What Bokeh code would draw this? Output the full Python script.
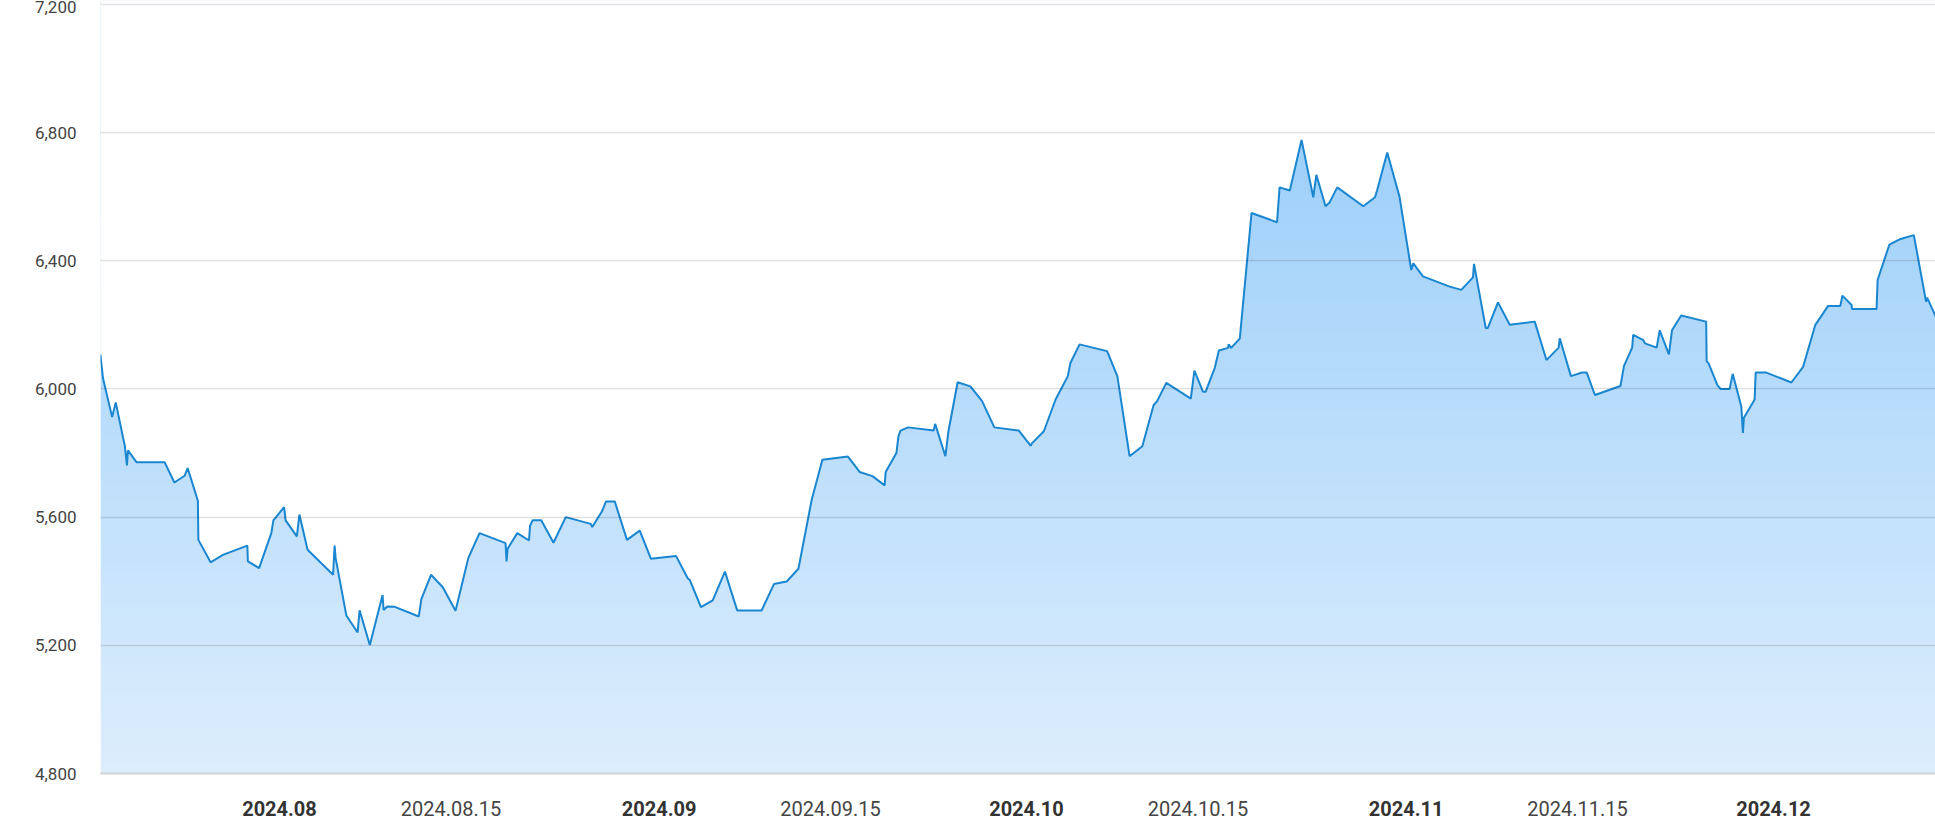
import numpy as np
import pandas as pd
from bokeh.plotting import figure
from bokeh.models import (FixedTicker, NumeralTickFormatter, Range1d, DatetimeAxis)
from bokeh.embed import file_html
from bokeh.resources import INLINE

# ---------------- data ----------------
dates = [
    "2024-07-17 09:00", "2024-07-17 14:00", "2024-07-18 08:00", "2024-07-18 15:00",
    "2024-07-19 09:00", "2024-07-19 13:00", "2024-07-19 15:00", "2024-07-20 08:00",
    "2024-07-22 15:00", "2024-07-23 10:00", "2024-07-24 06:00", "2024-07-24 12:00",
    "2024-07-25 08:00", "2024-07-25 09:00", "2024-07-26 09:00", "2024-07-27 09:00",
    "2024-07-29 09:00", "2024-07-29 10:00", "2024-07-30 08:00", "2024-07-31 08:00",
    "2024-07-31 12:00", "2024-08-01 09:00", "2024-08-01 12:00", "2024-08-02 10:00",
    "2024-08-02 15:00", "2024-08-03 07:00", "2024-08-05 09:00", "2024-08-05 12:00",
    "2024-08-05 14:00", "2024-08-06 11:00", "2024-08-07 09:00", "2024-08-07 13:00",
    "2024-08-08 09:00", "2024-08-09 10:00", "2024-08-09 12:00", "2024-08-09 19:00",
    "2024-08-10 10:00", "2024-08-12 09:00", "2024-08-12 14:00", "2024-08-13 09:00",
    "2024-08-14 08:00", "2024-08-15 09:00", "2024-08-16 10:00", "2024-08-17 08:00",
    "2024-08-19 11:00", "2024-08-19 13:00", "2024-08-19 15:00", "2024-08-20 10:00",
    "2024-08-21 09:00", "2024-08-21 11:00", "2024-08-21 16:00", "2024-08-22 09:00",
    "2024-08-23 09:00", "2024-08-24 09:00", "2024-08-26 10:00", "2024-08-26 13:00",
    "2024-08-27 08:00", "2024-08-27 16:00", "2024-08-28 09:00", "2024-08-29 09:00",
    "2024-08-30 10:00", "2024-08-31 08:00", "2024-09-02 09:00", "2024-09-03 08:00",
    "2024-09-03 12:00", "2024-09-04 10:00", "2024-09-05 09:00", "2024-09-06 09:00",
    "2024-09-07 09:00", "2024-09-09 09:00", "2024-09-10 09:00", "2024-09-11 10:00",
    "2024-09-12 09:00", "2024-09-13 11:00", "2024-09-14 08:00", "2024-09-16 10:00",
    "2024-09-17 09:00", "2024-09-18 10:00", "2024-09-19 10:00", "2024-09-19 12:00",
    "2024-09-20 09:00", "2024-09-20 13:00", "2024-09-20 17:00", "2024-09-21 08:00",
    "2024-09-23 10:00", "2024-09-23 13:00", "2024-09-24 09:00", "2024-09-24 15:00",
    "2024-09-25 09:00", "2024-09-26 10:00", "2024-09-27 09:00", "2024-09-28 09:00",
    "2024-09-30 09:00", "2024-10-01 08:00", "2024-10-01 11:00", "2024-10-02 10:00",
    "2024-10-03 09:00", "2024-10-04 09:00", "2024-10-04 14:00", "2024-10-05 08:00",
    "2024-10-07 14:00", "2024-10-08 10:00", "2024-10-09 10:00", "2024-10-10 11:00",
    "2024-10-11 09:00", "2024-10-11 16:00", "2024-10-12 10:00", "2024-10-14 10:00",
    "2024-10-14 17:00", "2024-10-15 10:00", "2024-10-15 15:00", "2024-10-16 09:00",
    "2024-10-16 17:00", "2024-10-17 11:00", "2024-10-17 12:00", "2024-10-17 17:00",
    "2024-10-18 10:00", "2024-10-19 09:00", "2024-10-21 11:00", "2024-10-21 16:00",
    "2024-10-22 12:00", "2024-10-23 11:00", "2024-10-24 10:00", "2024-10-24 16:00",
    "2024-10-25 10:00", "2024-10-25 18:00", "2024-10-26 09:00", "2024-10-28 12:00",
    "2024-10-29 11:00", "2024-10-29 15:00", "2024-10-30 11:00", "2024-10-31 11:00",
    "2024-11-01 10:00", "2024-11-01 14:00", "2024-11-02 09:00", "2024-11-04 12:00",
    "2024-11-05 12:00", "2024-11-06 11:00", "2024-11-06 13:00", "2024-11-07 12:00",
    "2024-11-07 16:00", "2024-11-08 12:00", "2024-11-09 11:00", "2024-11-11 12:00",
    "2024-11-12 11:00", "2024-11-13 11:00", "2024-11-13 13:00", "2024-11-14 11:00",
    "2024-11-15 09:00", "2024-11-15 18:00", "2024-11-16 10:00", "2024-11-18 12:00",
    "2024-11-18 19:00", "2024-11-19 11:00", "2024-11-19 13:00", "2024-11-20 09:00",
    "2024-11-20 12:00", "2024-11-21 11:00", "2024-11-21 17:00", "2024-11-22 11:00",
    "2024-11-22 17:00", "2024-11-23 11:00", "2024-11-25 12:00", "2024-11-25 13:00",
    "2024-11-25 17:00", "2024-11-26 10:00", "2024-11-26 16:00", "2024-11-27 10:00",
    "2024-11-27 16:00", "2024-11-28 09:00", "2024-11-28 12:00", "2024-11-28 14:00",
    "2024-11-29 11:00", "2024-11-29 13:00", "2024-11-30 10:00", "2024-12-02 11:00",
    "2024-12-03 10:00", "2024-12-04 10:00", "2024-12-05 11:00", "2024-12-06 11:00",
    "2024-12-06 15:00", "2024-12-07 09:00", "2024-12-07 10:00", "2024-12-09 10:00",
    "2024-12-09 12:00", "2024-12-10 11:00", "2024-12-11 09:00", "2024-12-12 11:00",
    "2024-12-13 11:00", "2024-12-13 13:00", "2024-12-14 10:00",
]
prices = [
    6107, 6034, 5912, 5958,
    5821, 5761, 5808, 5771,
    5771, 5708, 5729, 5753,
    5651, 5529, 5459, 5482,
    5511, 5462, 5441, 5550,
    5590, 5631, 5590, 5540,
    5608, 5498, 5420, 5511,
    5472, 5293, 5240, 5309,
    5201, 5357, 5310, 5321,
    5320, 5290, 5344, 5420,
    5381, 5308, 5472, 5550,
    5519, 5462, 5501, 5550,
    5527, 5573, 5590, 5590,
    5520, 5600, 5579, 5569,
    5618, 5649, 5649, 5529,
    5558, 5470, 5479, 5409,
    5404, 5319, 5340, 5430,
    5309, 5309, 5391, 5399,
    5439, 5654, 5779, 5789,
    5741, 5728, 5699, 5741,
    5800, 5852, 5870, 5880,
    5870, 5891, 5790, 5868,
    6021, 6008, 5962, 5880,
    5870, 5823, 5831, 5868,
    5967, 6040, 6081, 6139,
    6118, 6040, 5790, 5821,
    5949, 5962, 6019, 5970,
    6057, 5991, 5991, 6066,
    6120, 6128, 6139, 6128,
    6157, 6549, 6520, 6629,
    6619, 6777, 6598, 6668,
    6570, 6582, 6629, 6570,
    6598, 6619, 6738, 6600,
    6371, 6392, 6351, 6320,
    6309, 6348, 6390, 6190,
    6190, 6270, 6200, 6210,
    6090, 6129, 6158, 6040,
    6051, 6051, 5981, 6009,
    6072, 6129, 6169, 6152,
    6142, 6129, 6183, 6108,
    6183, 6229, 6210, 6087,
    6079, 6012, 6000, 6000,
    6047, 5944, 5863, 5910,
    5967, 6051, 6051, 6020,
    6069, 6200, 6259, 6259,
    6291, 6262, 6249, 6249,
    6340, 6450, 6468, 6480,
    6272, 6285, 6212,
]

y_ticks = [4800, 5200, 5600, 6000, 6400, 6800, 7200]
month_ticks = ["2024-08-01", "2024-09-01", "2024-10-01", "2024-11-01", "2024-12-01"]
month_labels = ["2024.08", "2024.09", "2024.10", "2024.11", "2024.12"]
mid_ticks = ["2024-08-15", "2024-09-15", "2024-10-15", "2024-11-15"]
mid_labels = ["2024.08.15", "2024.09.15", "2024.10.15", "2024.11.15"]

view_start = "2024-07-17 09:11"
view_end = "2024-12-14 05:28"
y_low, y_high = 4800, 7212

# ---------------- figure ----------------
x_ms = np.array([pd.Timestamp(d).value / 1e6 for d in dates])
y = np.array(prices, dtype=float)

xs = pd.Timestamp(view_start).value / 1e6
xe = pd.Timestamp(view_end).value / 1e6

p = figure(width=1935, height=840, x_axis_type="datetime",
           x_range=Range1d(xs, xe), y_range=Range1d(y_low, y_high),
           output_backend="svg", toolbar_location=None,
           min_border_left=100, min_border_right=0, min_border_top=0,
           min_border_bottom=67)
p.outline_line_color = None
p.background_fill_color = "white"
p.border_fill_color = "white"

# vertical gradient fill (image), masked above the line with white
n = 300
vals = np.linspace(y_low, y_high, n)
top_c = np.array([158, 208, 250], dtype=float)
bot_c = np.array([221, 238, 253], dtype=float)
tt = np.clip((vals - 4800) / (6780 - 4800), 0, 1)[:, None]
cols = bot_c + tt * (top_c - bot_c)
img = np.empty((n, 1), dtype=np.uint32)
view = img.view(dtype=np.uint8).reshape((n, 1, 4))
view[:, 0, 0] = cols[:, 0].astype(np.uint8)
view[:, 0, 1] = cols[:, 1].astype(np.uint8)
view[:, 0, 2] = cols[:, 2].astype(np.uint8)
view[:, 0, 3] = 255
p.image_rgba(image=[img], x=xs, y=y_low, dw=xe - xs, dh=y_high - y_low)

p.varea(x=x_ms, y1=y, y2=y_high + 300, fill_color="white", fill_alpha=1.0)
p.line(x=x_ms, y=y, line_color="#1a86d0", line_width=2)

# grid on top, semi-transparent
p.xgrid.visible = False
p.ygrid.ticker = FixedTicker(ticks=y_ticks)
p.ygrid.grid_line_color = "black"
p.ygrid.grid_line_alpha = 0.12
p.ygrid.grid_line_width = 1.5
p.ygrid.level = "annotation"

# y axis
p.yaxis.ticker = FixedTicker(ticks=y_ticks)
p.yaxis.formatter = NumeralTickFormatter(format="0,0")
p.yaxis.axis_line_color = None
p.yaxis.major_tick_line_color = None
p.yaxis.minor_tick_line_color = None
p.yaxis.major_label_standoff = 18
p.yaxis.major_label_text_font = "Roboto"
p.yaxis.major_label_text_font_size = "17px"
p.yaxis.major_label_text_color = "#444444"

# x axis: month ticks (bold)
m_ms = [int(pd.Timestamp(d).value // 10**6) for d in month_ticks]
p.xaxis.ticker = FixedTicker(ticks=m_ms)
p.xaxis.major_label_overrides = {k: lab for k, lab in zip(m_ms, month_labels)}
p.xaxis.axis_line_color = "#d4d4d4"
p.xaxis.axis_line_width = 2
p.xaxis.major_tick_line_color = None
p.xaxis.minor_tick_line_color = None
p.xaxis.major_label_standoff = 21
p.xaxis.major_label_text_font = "Roboto"
p.xaxis.major_label_text_font_style = "bold"
p.xaxis.major_label_text_font_size = "20px"
p.xaxis.major_label_text_color = "#333333"

# second axis for mid-month labels (regular weight), pulled up onto the same row
mid_ms = [int(pd.Timestamp(d).value // 10**6) for d in mid_ticks]
ax2 = DatetimeAxis(ticker=FixedTicker(ticks=mid_ms),
                   major_label_overrides={k: lab for k, lab in zip(mid_ms, mid_labels)})
ax2.axis_line_color = None
ax2.major_tick_line_color = None
ax2.minor_tick_line_color = None
ax2.major_label_text_font = "Roboto"
ax2.major_label_text_font_size = "20px"
ax2.major_label_text_color = "#444444"
ax2.major_label_standoff = -24
p.add_layout(ax2, "below")

open("out.html", "w").write(file_html(p, INLINE))
